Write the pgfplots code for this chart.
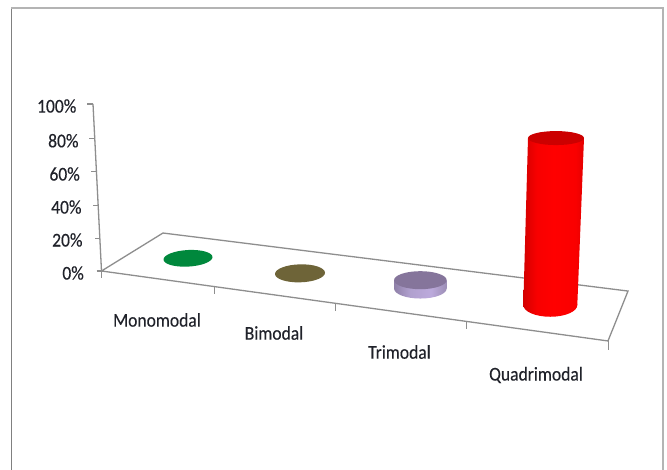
\documentclass[border=0pt]{standalone}
\usepackage{pgfplots}
\pgfplotsset{compat=1.18}
\usepackage{fontspec}
\setmainfont[FakeStretch=0.9,FakeBold=0.25]{Carlito}
\definecolor{frameL}{HTML}{808080}
\definecolor{frameT}{HTML}{B4B4B4}
\definecolor{wall}{HTML}{8E8E8E}
\definecolor{ink}{HTML}{20222A}
\definecolor{mono}{HTML}{00883C}
\definecolor{bimo}{HTML}{6E6438}
\definecolor{trimoTop}{HTML}{85759B}
\definecolor{quadTop}{HTML}{CC0000}
\definecolor{triA}{HTML}{8F80A8}
\definecolor{triB}{HTML}{B0A0CE}
\definecolor{triC}{HTML}{BCAADC}
\definecolor{triD}{HTML}{9C8EB5}
\definecolor{redA}{HTML}{D40000}
\definecolor{redB}{HTML}{F80000}
\definecolor{redC}{HTML}{FF0000}
\definecolor{redD}{HTML}{FA0000}
\definecolor{redE}{HTML}{E40000}
\pgfdeclarehorizontalshading{trimoSide}{100bp}{color(0bp)=(triA);color(25bp)=(triA);color(40bp)=(triB);color(60bp)=(triC);color(75bp)=(triD);color(100bp)=(triD)}
\pgfdeclarehorizontalshading{quadSide}{100bp}{color(0bp)=(redA);color(25bp)=(redA);color(36bp)=(redB);color(50bp)=(redC);color(68bp)=(redD);color(75bp)=(redE);color(100bp)=(redE)}
% The leaning side is wider than the base, so the base carries the same stops compressed
\pgfdeclarehorizontalshading{quadFoot}{100bp}{color(0bp)=(redA);color(25bp)=(redA);color(37.4bp)=(redB);color(53bp)=(redC);color(73bp)=(redD);color(75bp)=(redD);color(100bp)=(redD)}
% End discs of the cylinders, placed as plot marks on the data points
\newcommand{\discpath}[3]{\pgfpathellipse{\pgfpointorigin}{\pgfpoint{#1pt}{#3pt}}{\pgfpoint{0pt}{#2pt}}}
\pgfdeclareplotmark{monoDisc}{\discpath{24.5}{8.3}{1.2}\pgfsetfillcolor{mono}\pgfusepathqfill}
\pgfdeclareplotmark{bimoDisc}{\discpath{25}{9}{0.6}\pgfsetfillcolor{bimo}\pgfusepathqfill}
\pgfdeclareplotmark{trimoBase}{\discpath{26.3}{10}{0}\pgfshadepath{trimoSide}{0}\pgfusepath{discard}}
\pgfdeclareplotmark{trimoCap}{\discpath{26.3}{9}{0}\pgfsetfillcolor{trimoTop}\pgfusepathqfill}
\pgfdeclareplotmark{quadBase}{\discpath{27}{11.7}{0}\pgfshadepath{quadFoot}{0}\pgfusepath{discard}}
\pgfdeclareplotmark{quadCap}{\discpath{28}{7}{0}\pgfsetfillcolor{quadTop}\pgfusepathqfill}
\tikzset{lab/.style={font=\fontsize{19.5}{20}\selectfont, text=ink, inner sep=0pt}}
\begin{document}
\begin{tikzpicture}
\fill[white] (0,0) rectangle (667pt,470pt);
\useasboundingbox (0,0) rectangle (667pt,470pt);
\begin{axis}[
  at={(0,0)}, anchor=south west,
  scale only axis, width=667pt, height=470pt,
  xmin=0, xmax=667, ymin=-119.16, ymax=162.28,
  hide axis, clip=false,
]
% Outer frame of the chart area
\addplot[frameL, line width=1pt] coordinates {(11.5,157.5) (11.5,-119.16)};
\addplot[frameT, line width=2pt] coordinates {(11,157.5) (663,157.5) (663,-119.16)};

% Value axis, leaning with the perspective, and its ticks
\addplot[wall, line width=1.3pt] coordinates {(93,100) (101.5,0)};
\addplot[wall, line width=1.1pt] coordinates {(87.3,100) (93,100)};
\addplot[wall, line width=1.1pt] coordinates {(89.3,79.6) (95,79.6)};
\addplot[wall, line width=1.1pt] coordinates {(91,59.5) (96.5,59.5)};
\addplot[wall, line width=1.1pt] coordinates {(93,39.1) (98,39.1)};
\addplot[wall, line width=1.1pt] coordinates {(95,19.2) (100,19.2)};
\addplot[wall, line width=1.1pt] coordinates {(96.7,0) (101.5,0)};

% Floor of the chart and the ticks along its front edge
\addplot[wall, line width=1.3pt] coordinates {(101.5,0) (608,-41.9) (628,-12) (163,22.75)} -- cycle;
\addplot[wall, line width=1pt] coordinates {(101.5,0) (101.5,-4.2)};
\addplot[wall, line width=1pt] coordinates {(214,-9.3) (214,-13.8)};
\addplot[wall, line width=1pt] coordinates {(335.3,-19.3) (335.3,-24)};
\addplot[wall, line width=1pt] coordinates {(466.7,-30.2) (466.7,-34.7)};
\addplot[wall, line width=1pt] coordinates {(608,-41.9) (608,-47.3)};

% Monomodal and Bimodal: 0 %, a flat disc on the floor
\addplot[only marks, mark=monoDisc] coordinates {(188,7.6)};
\addplot[only marks, mark=bimoDisc] coordinates {(300,-1.4)};

% Trimodal: 5 % above its base at -10.5
\addplot[only marks, mark=trimoBase] coordinates {(420.35,-10.5)};
\addplot[draw=none, shading=trimoSide] coordinates {(394,-10.5) (446.7,-10.5) (446.7,-5.5) (394,-5.5)} -- cycle;
\addplot[only marks, mark=trimoCap] coordinates {(420.35,-5.5)};

% Quadrimodal: 100 % above its base at -20.4
\addplot[only marks, mark=quadBase] coordinates {(550.3,-20.4)};
\addplot[draw=none, shading=quadSide] coordinates {(523.3,-20.4) (577.3,-20.4) (584,79.6) (528,79.6)} -- cycle;
\addplot[only marks, mark=quadCap] coordinates {(556,79.6)};

% Value labels
\node[lab, anchor=east] at (axis cs:76.5,98.8) {100\%};
\node[lab, anchor=east] at (axis cs:78.7,78) {80\%};
\node[lab, anchor=east] at (axis cs:80,58.1) {60\%};
\node[lab, anchor=east] at (axis cs:81.7,38.3) {40\%};
\node[lab, anchor=east] at (axis cs:82.7,18.6) {20\%};
\node[lab, anchor=east] at (axis cs:84,-1.2) {0\%};

% Category labels
\node[lab] at (axis cs:157,-29.3) {Monomodal};
\node[lab] at (axis cs:274,-37.1) {Bimodal};
\node[lab] at (axis cs:399.5,-48.5) {Trimodal};
\node[lab] at (axis cs:536,-62.3) {Quadrimodal};
\end{axis}
\end{tikzpicture}
\end{document}
